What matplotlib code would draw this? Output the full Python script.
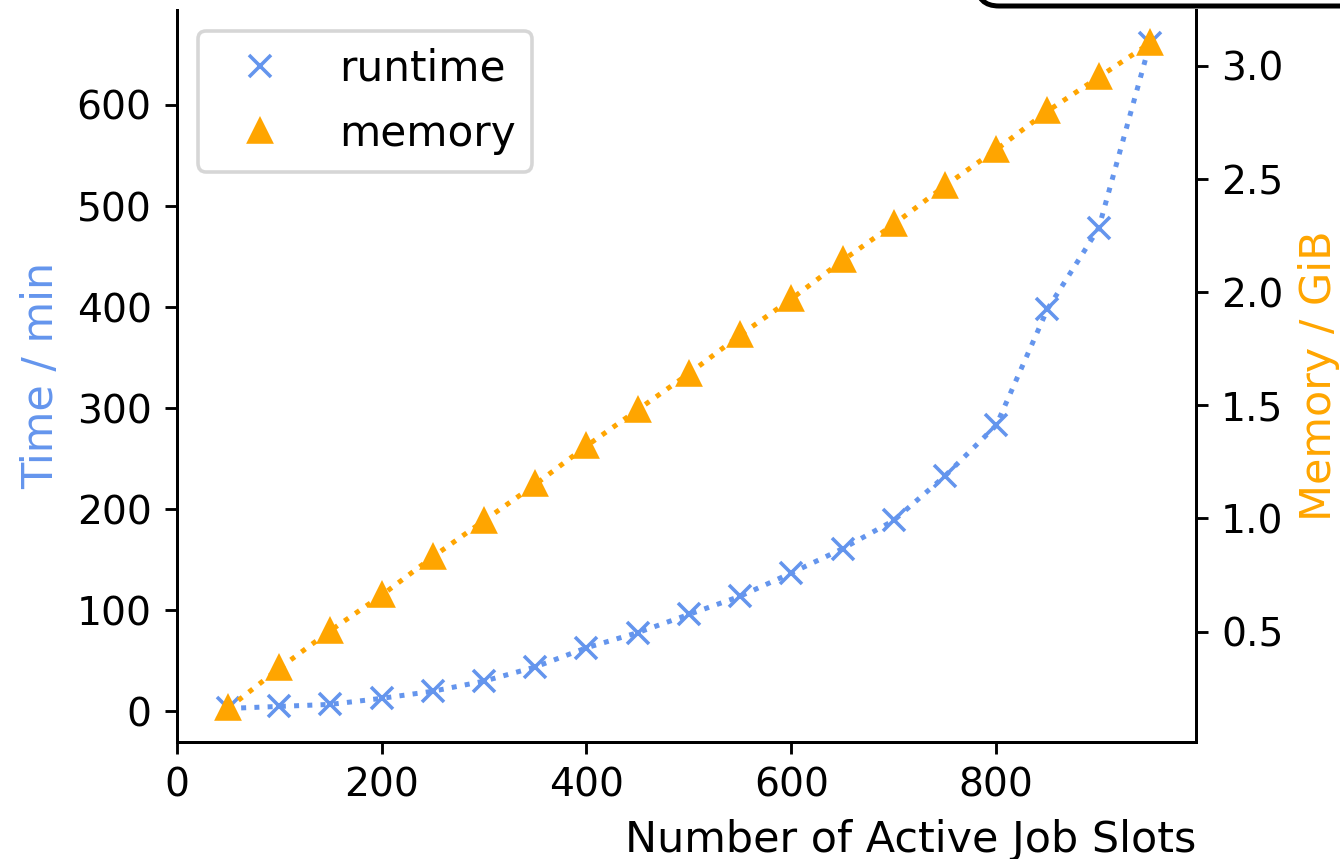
import matplotlib
matplotlib.use("Agg")
import matplotlib.pyplot as plt
from matplotlib.lines import Line2D
from matplotlib.patches import FancyBboxPatch
from matplotlib.transforms import IdentityTransform

slots = [50, 100, 150, 200, 250, 300, 350, 400, 450, 500, 550, 600, 650, 700, 750, 800, 850, 900, 950]
runtime_min = [3, 5, 7, 13, 20, 30, 44, 63, 78, 96, 114, 137, 161, 189, 233, 283, 398, 478, 661]
memory_gib = [0.16, 0.337, 0.504, 0.66, 0.83, 0.99, 1.15, 1.32, 1.48, 1.64, 1.81, 1.97, 2.14, 2.30, 2.47, 2.63, 2.80, 2.95, 3.10]

c_rt = "cornflowerblue"
c_mem = "orange"

DPI = 257
fig = plt.figure(figsize=(1340 / DPI, 859 / DPI), dpi=DPI)
ax = fig.add_axes([176.7 / 1340, 1 - 741.7 / 859, (1196 - 176.7) / 1340, (741.7 - 10) / 859])
ax2 = ax.twinx()

ax.plot(slots, runtime_min, linestyle=":", marker="x", color=c_rt, linewidth=1.4)
ax2.plot(slots, memory_gib, linestyle=":", marker="^", color=c_mem, linewidth=1.4)

ax.set_xlim(0, 995)
ax.set_xlabel("Number of Active Job Slots", loc="right", fontsize=12)
ax.set_ylabel("Time / min", color=c_rt, fontsize=12)
ax2.set_ylabel("Memory / GiB", color=c_mem, fontsize=12)

for a in (ax, ax2):
    a.spines["top"].set_visible(False)
    a.tick_params(labelsize=11)

handles = [Line2D([], [], linestyle="none", marker="x", color=c_rt),
           Line2D([], [], linestyle="none", marker="^", color=c_mem)]
ax.legend(handles, ["runtime", "memory"], loc="upper left", handlelength=2.15,
          fontsize=11.8, labelspacing=0.55)

box = FancyBboxPatch((977, 853), 500, 100, boxstyle="round,pad=0,rounding_size=22",
                     transform=IdentityTransform(), facecolor="white", edgecolor="black",
                     linewidth=1.4, clip_on=False)
fig.add_artist(box)

fig.savefig("out.png", dpi=DPI)
